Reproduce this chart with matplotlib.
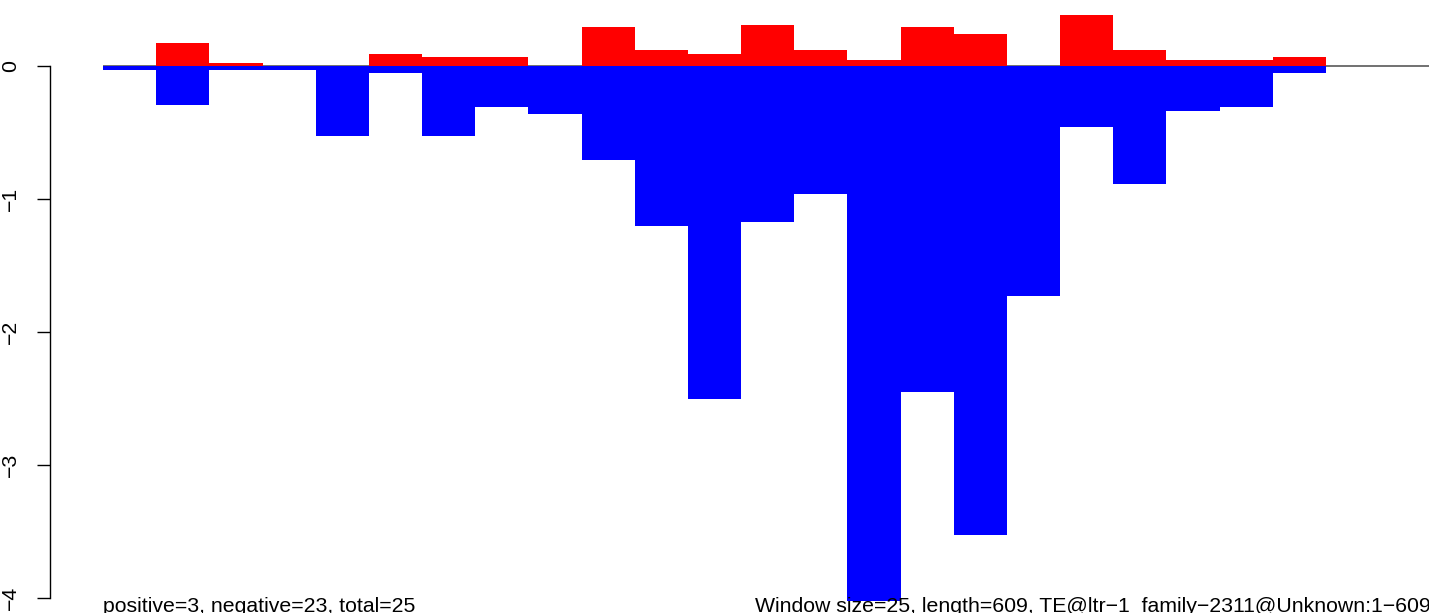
import numpy as np
import matplotlib
matplotlib.use("Agg")
import matplotlib.pyplot as plt

plt.rcParams['font.family'] = ['Liberation Sans', 'DejaVu Sans']

# per-window scores (23 windows)
pos_vals = [0.0, 0.17, 0.025, 0.0, 0.0, 0.09, 0.07, 0.07, 0.0, 0.29, 0.12, 0.09,
            0.31, 0.12, 0.045, 0.29, 0.24, 0.0, 0.38, 0.12, 0.045, 0.045, 0.07]
neg_vals = [-0.03, -0.29, -0.03, -0.03, -0.53, -0.05, -0.53, -0.31, -0.36, -0.71, -1.20, -2.50,
            -1.17, -0.96, -4.02, -2.45, -3.53, -1.73, -0.46, -0.89, -0.34, -0.31, -0.05]
y_ticks = [0, -1, -2, -3, -4]
left_note = "positive=3, negative=23, total=25"
right_note = "Window size=25, length=609, TE@ltr\u22121_family\u22122311@Unknown:1\u2212609"

W, H = 1429, 613
fig = plt.figure(figsize=(W / 100, H / 100), dpi=100)
ax = fig.add_axes([0, 0, 1, 1])

n = len(pos_vals)
x = np.arange(n)
pxu = (1326 - 103) / n
ax.set_xlim(-103 / pxu, (W - 103) / pxu)
ax.set_ylim(-(H - 66) / 133, 66 / 133)

ax.hlines(0, 0, 30, color='#666666', lw=1.3, zorder=1)
ax.bar(x, pos_vals, width=1, align='edge', color='red', linewidth=0, zorder=2)
ax.bar(x, neg_vals, width=1, align='edge', color='blue', linewidth=0, zorder=3)

for s in ['top', 'right', 'bottom']:
    ax.spines[s].set_visible(False)
ax.spines['left'].set_position(('data', -1))
ax.spines['left'].set_bounds(-4, 0)
ax.spines['left'].set_linewidth(1)
ax.set_xticks([])
ax.set_yticks(y_ticks)
ax.set_yticklabels([str(t).replace('-', '\u2212') for t in y_ticks],
                   rotation=90, va='center', fontsize=15.3)
ax.tick_params(axis='y', length=9.4, width=1, pad=12)
ax.patch.set_visible(False)

fig.text(103 / W, 1.5 / H, left_note, fontsize=15.3, va='baseline', ha='left', zorder=5)
fig.text(755 / W, 1.5 / H, right_note, fontsize=15.3, va='baseline', ha='left', zorder=5)

fig.savefig("out.png", dpi=100)
